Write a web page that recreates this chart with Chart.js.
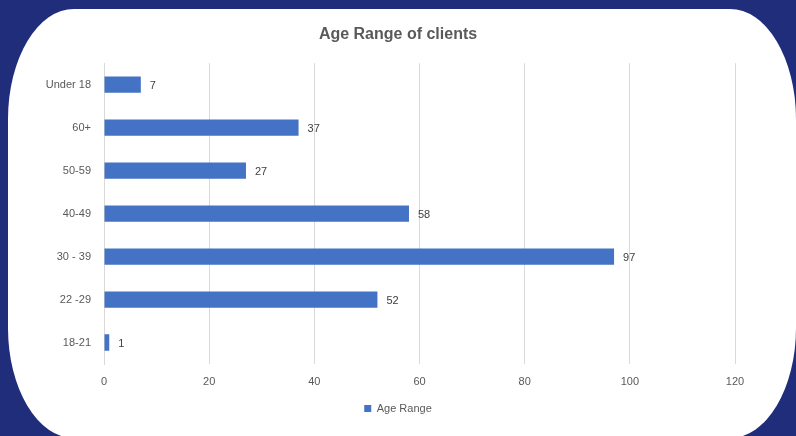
<!DOCTYPE html>
<html>
<head>
<meta charset="utf-8">
<script src="https://cdn.jsdelivr.net/npm/chart.js@4.4.1/dist/chart.umd.min.js"></script>
<style>
    html, body { margin: 0; padding: 0; }
    body { width: 796px; height: 436px; background: #1f2d7b; position: relative; overflow: hidden; }
    .card { position: absolute; left: 8px; top: 9px; width: 788px; height: 429px; background: #fff; border-radius: 66px / 110px; }
    .wrap { position: absolute; left: 0; top: 0; width: 796px; height: 436px; }
</style>
</head>
<body>
<div class="card"></div>
<div class="wrap"><canvas id="ageChart" width="796" height="436"></canvas></div>
<script>
// Client counts per age bracket (top to bottom as shown)
const ageLabels = ['Under 18', '60+', '50-59', '40-49', '30 - 39', '22 -29', '18-21'];
const ageCounts = [7, 37, 27, 58, 97, 52, 1];
const xTicks = [0, 20, 40, 60, 80, 100, 120];

const barColor = '#4472c4';
const textColor = '#595959';
const fontFamily = "'Liberation Sans', Arial, sans-serif";

// Value labels to the right of each bar
const barValues = {
    id: 'barValues',
    afterDatasetsDraw(chart) {
        const ctx = chart.ctx;
        const meta = chart.getDatasetMeta(0);
        ctx.save();
        ctx.font = '11px ' + fontFamily;
        ctx.fillStyle = '#404040';
        ctx.textAlign = 'left';
        ctx.textBaseline = 'middle';
        meta.data.forEach((bar, i) => {
            ctx.fillText(String(ageCounts[i]), bar.x + 9, bar.y + 1);
        });
        ctx.restore();
    }
};

const ctx = document.getElementById('ageChart').getContext('2d');
const ageChart = new Chart(ctx, {
    type: 'bar',
    data: {
        labels: ageLabels,
        datasets: [{
            label: 'Age Range',
            data: ageCounts,
            backgroundColor: barColor,
            borderWidth: 0,
            categoryPercentage: 1,
            barPercentage: 0.38
        }]
    },
    options: {
        indexAxis: 'y',
        responsive: false,
        animation: false,
        layout: { padding: { top: 15, right: 0, bottom: 12, left: 0 } },
        plugins: {
            title: {
                display: true,
                text: 'Age Range of clients',
                color: textColor,
                font: { family: fontFamily, size: 16, weight: 'bold' },
                padding: { top: 10, bottom: 19 }
            },
            legend: {
                position: 'bottom',
                labels: {
                    color: textColor,
                    font: { family: fontFamily, size: 11 },
                    boxWidth: 7,
                    boxHeight: 7,
                    padding: 10
                }
            },
            tooltip: { enabled: false }
        },
        scales: {
            x: {
                min: 0,
                max: 120,
                afterBuildTicks(scale) {
                    scale.ticks = xTicks.map(v => ({ value: v }));
                },
                afterFit(scale) { scale.height = 29; },
                grid: { color: '#d9d9d9', drawTicks: false },
                border: { display: false },
                ticks: {
                    color: textColor,
                    font: { family: fontFamily, size: 11 },
                    padding: 11,
                    maxRotation: 0
                }
            },
            y: {
                afterFit(scale) { scale.width = 104; },
                grid: { display: false, drawTicks: false },
                border: { color: '#d9d9d9' },
                ticks: {
                    color: textColor,
                    font: { family: fontFamily, size: 11 },
                    padding: 13
                }
            },
            // empty right-hand gutter so the plot ends short of the card edge
            gutter: {
                type: 'linear',
                position: 'right',
                afterFit(scale) { scale.width = 61; },
                grid: { display: false, drawTicks: false },
                border: { display: false },
                ticks: { display: false }
            }
        }
    },
    plugins: [barValues]
});
</script>
</body>
</html>
